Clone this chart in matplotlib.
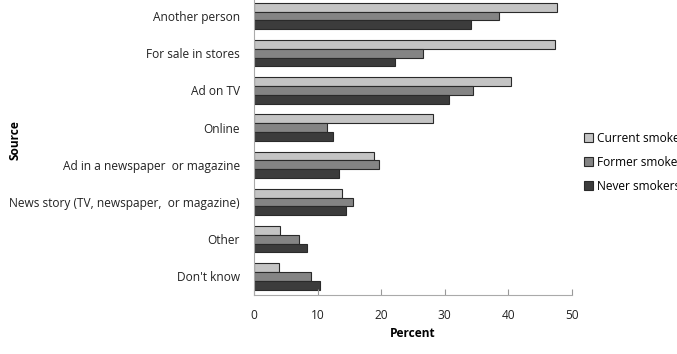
import matplotlib
matplotlib.use("Agg")
import matplotlib.pyplot as plt
import numpy as np

categories = ["Another person", "For sale in stores", "Ad on TV", "Online",
              "Ad in a newspaper  or magazine", "News story (TV, newspaper,  or magazine)",
              "Other", "Don't know"]
current = [47.6, 47.3, 40.4, 28.1, 18.8, 13.9, 4.1, 4.0]
former = [38.6, 26.5, 34.4, 11.5, 19.6, 15.5, 7.0, 8.9]
never = [34.1, 22.2, 30.7, 12.4, 13.3, 14.5, 8.4, 10.3]
series_names = ["Current smokers", "Former smokers", "Never smokers"]
xticks = [0, 10, 20, 30, 40, 50]

plt.rcParams['font.family'] = ['Open Sans', 'DejaVu Sans']

fig = plt.figure(figsize=(6.77, 3.54), dpi=100)
ax = fig.add_axes([254/677, 1-295/354, (572-254)/677, (295+2.6)/354])

y = np.arange(len(categories))
h = 0.235
colors = ["#c4c4c4", "#848484", "#3c3c3c"]
for i, (vals, name, c) in enumerate(zip([current, former, never], series_names, colors)):
    ax.barh(y + (i - 1) * h, vals, height=h, color=c, edgecolor="#2a2a2a",
            linewidth=0.8, label=name)

ax.set_ylim(len(categories) - 0.5, -0.5)
ax.set_xlim(0, 50)
ax.set_xticks(xticks)
ax.set_yticks(y)
ax.set_yticklabels(categories, fontsize=8.6, color="#222222")
ax.tick_params(axis='y', length=0, pad=10)
ax.tick_params(axis='x', length=4, width=0.8, color="#999999", labelsize=8.6,
               labelcolor="#222222", pad=10, direction='in')
for s in ["top", "right"]:
    ax.spines[s].set_visible(False)
ax.spines["left"].set_color("#aaaaaa")
ax.spines["bottom"].set_color("#aaaaaa")
ax.set_xlabel("Percent", fontsize=8.6, fontweight="bold", labelpad=4)
ax.set_ylabel("Source", fontsize=8.6, fontweight="bold")
ax.yaxis.set_label_coords(-0.73, 0.52)

leg = ax.legend(loc="upper left", bbox_to_anchor=(1.005, 0.585), frameon=False,
                fontsize=8.6, handlelength=0.75, handleheight=0.75, handletextpad=0.35,
                labelspacing=0.92)

fig.savefig("out.png", dpi=100)
